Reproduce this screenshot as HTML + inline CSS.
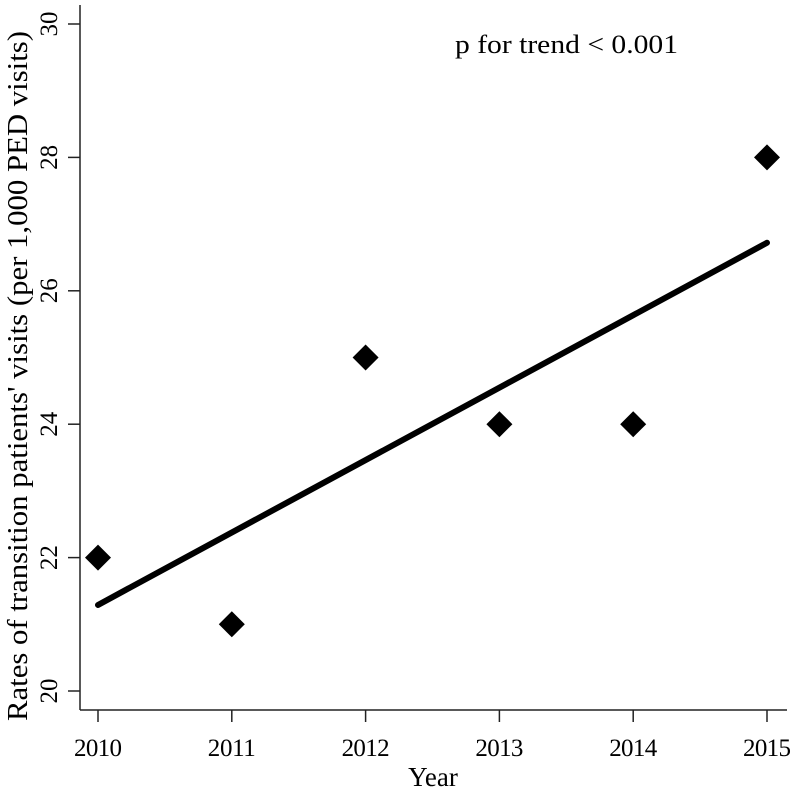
<!DOCTYPE html>
<html><head><meta charset="utf-8"><style>body{margin:0;background:#fff}svg{display:block;font-family:"Liberation Serif",serif}</style></head>
<body>
<svg width="800" height="793" viewBox="0 0 800 793">
<g id="axes"></g>
<g id="marks"></g>
<text x="455" y="53" font-size="26" textLength="223" lengthAdjust="spacingAndGlyphs">p for trend &lt; 0.001</text>
<text x="433" y="786" font-size="27" text-anchor="middle">Year</text>
<text transform="translate(27,376) rotate(-90)" font-size="28" text-anchor="middle" textLength="690" lengthAdjust="spacingAndGlyphs">Rates of transition patients' visits (per 1,000 PED visits)</text>
</svg>
<script>
const years = [2010, 2011, 2012, 2013, 2014, 2015];
const rates = [22, 21, 25, 24, 24, 28];
const yTicks = [20, 22, 24, 26, 28, 30];
const fitStart = 21.29;
const fitEnd = 26.72;
const NS = "http://www.w3.org/2000/svg";
const xs = v => 98 + (v - 2010) * 133.8;
const ys = v => 691 - (v - 20) * 66.7;
function mk(parent, tag, attrs) {
  const e = document.createElementNS(NS, tag);
  for (const k in attrs) e.setAttribute(k, attrs[k]);
  parent.appendChild(e);
  return e;
}
const axes = document.getElementById('axes');
const marks = document.getElementById('marks');
let a = mk(axes, 'line', {x1: 80, y1: 5, x2: 80, y2: 710, stroke: '#222', 'stroke-width': 1.5});


a = mk(axes, 'line', {x1: 80, y1: 710, x2: 787, y2: 710, stroke: '#222', 'stroke-width': 1.5});


yTicks.forEach(t => {
  const y = ys(t);
  const l = mk(axes, 'line', {x1: 68, y1: y, x2: 80, y2: y, stroke: '#222', 'stroke-width': 1.5});
  
  
  const tx = mk(axes, 'text', {transform: `translate(57,${y}) rotate(-90)`, 'font-size': 25, 'text-anchor': 'middle'});
  tx.textContent = t;
  
  
});
years.forEach(yr => {
  const x = xs(yr);
  const l = mk(axes, 'line', {x1: x, y1: 710, x2: x, y2: 722, stroke: '#222', 'stroke-width': 1.5});
  
  
  const tx = mk(axes, 'text', {x: x, y: 756, 'font-size': 25, 'text-anchor': 'middle', textLength: 48, lengthAdjust: 'spacing'});
  tx.textContent = yr;
  
  
});
const fit = mk(marks, 'line', {x1: xs(2010), y1: ys(fitStart), x2: xs(2015), y2: ys(fitEnd), stroke: '#000', 'stroke-width': 6, 'stroke-linecap': 'round'});


years.forEach((yr, i) => {
  const x = xs(yr), y = ys(rates[i]);
  const p = mk(marks, 'polygon', {points: `${x},${y-13} ${x+13},${y} ${x},${y+13} ${x-13},${y}`, fill: '#000'});
  
  
});
</script>
</body></html>
